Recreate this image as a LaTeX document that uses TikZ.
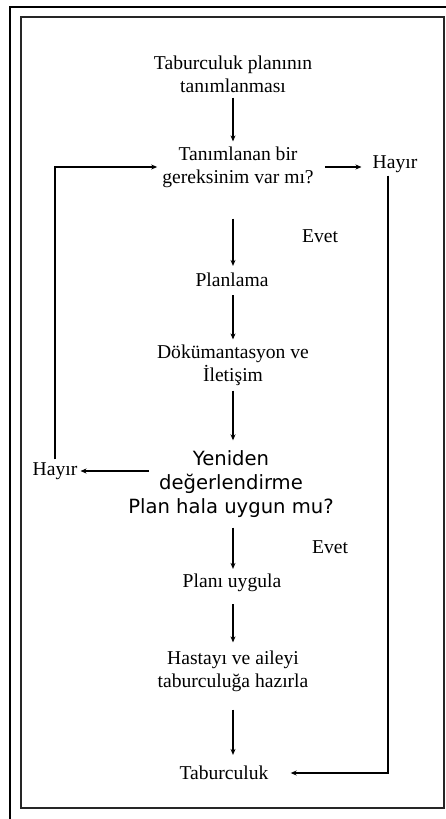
\documentclass[tikz,border=0pt]{standalone}
\usepackage{fontspec}
\setmainfont{Liberation Serif}
\newfontfamily\verdana{DejaVu Sans}
\usetikzlibrary{arrows.meta,calc}

\begin{document}
\begin{tikzpicture}[x=1pt,y=-1pt,>={Stealth[length=6pt,width=5pt]}]
    \tikzstyle{stage}=[align=center,inner sep=5pt,font=\fontsize{19.6}{23}\selectfont]
    \tikzstyle{answer}=[inner sep=3pt,font=\fontsize{19.6}{23}\selectfont]
    \tikzstyle{flow}=[->,line width=1.4pt]
    \clip (0,0) rectangle (446,819);
    % frames
    \draw[line width=1.4pt] (10,7) rectangle (470,840);
    \draw[line width=2pt,black!85] (21,17) rectangle (444,808);
    % steps
    \node[stage] (tanim) at (233,74) {Taburculuk planının\\tanımlanması};
    \node[stage] (gerek) at (238,167) {Tanımlanan bir\\gereksinim var mı?};
    \node[stage] (plan) at (232,280) {Planlama};
    \node[stage] (dokum) at (233,365) {Dökümantasyon ve\\İletişim};
    \node[stage,font=\verdana\fontsize{19.6}{24}\selectfont] (yeniden) at (231,484) {Yeniden\\değerlendirme\\Plan hala uygun mu?};
    \node[stage] (uygula) at (232,583) {Planı uygula};
    \node[stage] (hazirla) at (233,671) {Hastayı ve aileyi\\taburculuğa hazırla};
    \node[stage] (tab) at (224,773) {Taburculuk};
    % answers
    \node[answer] (hayir1) at (395,164) {Hayır};
    \node[answer] (hayir2) at (55,471) {Hayır};
    \node[answer] (evet1) at (320,236) {Evet};
    \node[answer] (evet2) at (330,547) {Evet};
    \coordinate (yout) at (149,471);
    % connectors
    \draw[flow] (tanim.south) -- (tanim.south |- gerek.north);
    \draw[flow,shorten <=26pt,shorten >=2pt] (gerek.south -| tanim.south) -- (tanim.south |- plan.north);
    \draw[flow,shorten <=3pt] (plan.south -| tanim.south) -- (tanim.south |- dokum.north);
    \draw[flow,shorten >=5pt] (dokum.south -| tanim.south) -- (tanim.south |- yeniden.north);
    \draw[flow,shorten <=5pt] (yeniden.south -| tanim.south) -- (tanim.south |- uygula.north);
    \draw[flow,shorten <=7pt,shorten >=3pt] (uygula.south -| tanim.south) -- (tanim.south |- hazirla.north);
    \draw[flow,shorten <=13pt,shorten >=6pt] (hazirla.south -| tanim.south) -- (tanim.south |- tab.north);
    \draw[flow,shorten <=6pt,shorten >=8pt] (gerek.east) -- (gerek.east -| hayir1.west);
    \draw[->,line width=1.1pt] (yout) -- (hayir2.east);
    \draw[->,line width=1.3pt] (hayir2.north) |- (gerek.west);
    \draw[->,line width=1.3pt,shorten >=17pt] ([xshift=-7pt]hayir1.south) |- (tab.east);
\end{tikzpicture}
\end{document}
